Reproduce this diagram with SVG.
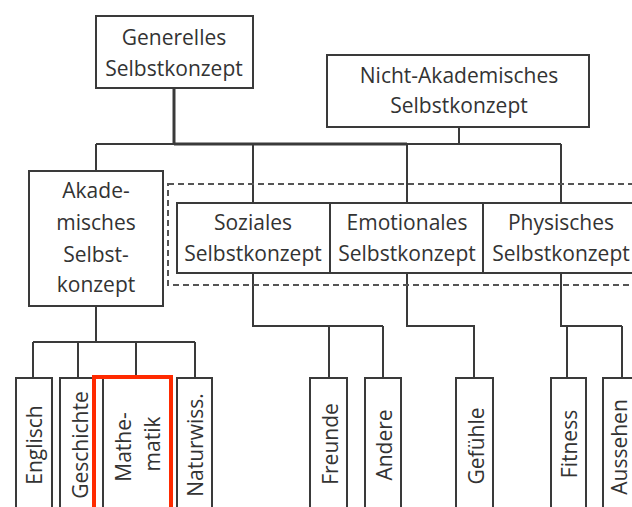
<svg xmlns="http://www.w3.org/2000/svg" width="632" height="507" viewBox="0 0 632 507">
<style>
.box{fill:#fff;stroke:#3a3a3a;stroke-width:2}
.ln{fill:none;stroke:#3a3a3a;stroke-width:2}
.t{font-family:"Open Sans","DejaVu Sans",sans-serif;font-size:21px;fill:#333;text-anchor:middle}
</style>
<rect width="632" height="507" fill="#fff"/>
<g id="connectors">
<path class="ln" d="M174 88V144" style="stroke-width:3"/>
<path class="ln" d="M96 144H561"/>
<path class="ln" d="M174 144H407" style="stroke-width:3"/>
<path class="ln" d="M459 127V145"/>
<path class="ln" d="M96 144V171M253 144V203M407 144V203M561 144V203"/>
<path class="ln" d="M96 306V342M33 342H195M33 342V378M78 342V378M136 342V378M195 342V378"/>
<path class="ln" d="M253 273V326H383M329 326V378M383 326V378"/>
<path class="ln" d="M407 273V326H474V378"/>
<path class="ln" d="M561 273V326H622M567 326V378M622 326V378"/>
</g>
<g id="group-nonacademic">
<rect x="168" y="184" width="500" height="101" fill="none" stroke="#555" stroke-width="2" stroke-dasharray="6,4"/>
</g>
<g id="generelles">
<rect class="box" x="96" y="16" width="157" height="72"/>
<text class="t" x="174" y="45">Generelles</text>
<text class="t" x="174" y="76">Selbstkonzept</text>
</g>
<g id="nicht-akademisches">
<rect class="box" x="327" y="55" width="262" height="72"/>
<text class="t" x="459" y="83">Nicht-Akademisches</text>
<text class="t" x="459" y="113">Selbstkonzept</text>
</g>
<g id="akademisches">
<rect class="box" x="29" y="171" width="134" height="135"/>
<text class="t" x="96" y="198">Akade-</text>
<text class="t" x="96" y="230">misches</text>
<text class="t" x="96" y="262">Selbst-</text>
<text class="t" x="96" y="292">konzept</text>
</g>
<g id="soziales">
<rect class="box" x="177" y="203" width="153" height="70"/>
<text class="t" x="253" y="230">Soziales</text>
<text class="t" x="253" y="261">Selbstkonzept</text>
</g>
<g id="emotionales">
<rect class="box" x="330" y="203" width="153" height="70"/>
<text class="t" x="407" y="230">Emotionales</text>
<text class="t" x="407" y="261">Selbstkonzept</text>
</g>
<g id="physisches">
<rect class="box" x="483" y="203" width="180" height="70"/>
<text class="t" x="561" y="230">Physisches</text>
<text class="t" x="561" y="261">Selbstkonzept</text>
</g>
<g id="englisch">
<rect class="box" x="16" y="378" width="36" height="150"/>
<text class="t" transform="translate(42 445) rotate(-90)">Englisch</text>
</g>
<g id="geschichte">
<rect class="box" x="60" y="378" width="44" height="150"/>
<text class="t" transform="translate(88 445) rotate(-90)">Geschichte</text>
</g>
<g id="mathematik">
<rect class="box" x="103" y="378" width="67" height="150"/>
<text class="t" transform="translate(131 447) rotate(-90)">Mathe-</text>
<text class="t" transform="translate(160 444) rotate(-90)">matik</text>
<rect x="94" y="377" width="77" height="150" fill="none" stroke="#ff2a00" stroke-width="4"/>
</g>
<g id="naturwiss">
<rect class="box" x="177" y="378" width="35" height="150"/>
<text class="t" transform="translate(203 445) rotate(-90)">Naturwiss.</text>
</g>
<g id="freunde">
<rect class="box" x="310" y="378" width="37" height="150"/>
<text class="t" transform="translate(338 444) rotate(-90)">Freunde</text>
</g>
<g id="andere">
<rect class="box" x="365" y="378" width="36" height="150"/>
<text class="t" transform="translate(392 445) rotate(-90)">Andere</text>
</g>
<g id="gefuehle">
<rect class="box" x="456" y="378" width="37" height="150"/>
<text class="t" transform="translate(484 446) rotate(-90)">Gefühle</text>
</g>
<g id="fitness">
<rect class="box" x="551" y="378" width="35" height="150"/>
<text class="t" transform="translate(577 444) rotate(-90)">Fitness</text>
</g>
<g id="aussehen">
<rect class="box" x="603" y="378" width="50" height="150"/>
<text class="t" transform="translate(627 447) rotate(-90)">Aussehen</text>
</g>
</svg>
